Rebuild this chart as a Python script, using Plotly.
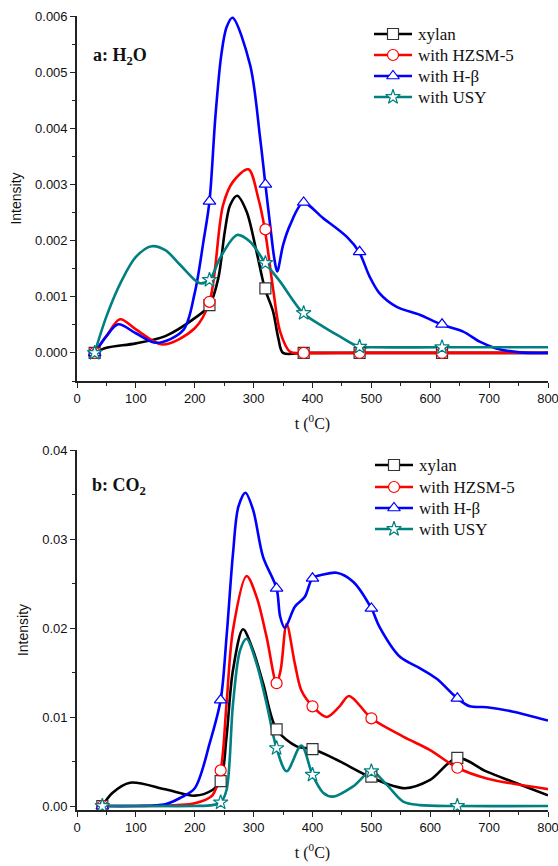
import plotly.graph_objects as go

# ---------------- data: panel a (H2O) ----------------
a_xylan_x = [30, 50, 100, 150, 200, 225, 240, 251, 260, 272, 288, 305, 319, 333, 342, 350, 385, 480, 620, 800]
a_xylan_y = [0, 0.00009, 0.00017, 0.0003, 0.00062, 0.00085, 0.00133, 0.00216, 0.00263, 0.0028, 0.00252,
             0.0018, 0.00115, 0.00074, 0.00026, 0.0, 0, 0, 0, 0]
a_hzsm_x = [30, 50, 73, 100, 145, 200, 225, 248, 265, 291, 308, 319, 333, 345, 362, 385, 480, 620, 800]
a_hzsm_y = [0, 0.0003, 0.0006, 0.00042, 0.00015, 0.00044, 0.00091, 0.00263, 0.00305, 0.00327, 0.00275,
            0.0022, 0.00115, 0.00038, 0.00002, 0, 0, 0, 0]
a_hb_x = [30, 50, 70, 100, 135, 180, 200, 215, 225, 235, 245, 254, 264, 294, 311, 320, 328, 335, 340, 350,
          362, 384, 418, 458, 479, 497, 514, 543, 582, 618, 656, 684, 712, 752, 800]
a_hb_y = [0, 0.0003, 0.00051, 0.00035, 0.00018, 0.0004, 0.00107, 0.002, 0.0027, 0.0042, 0.0053, 0.0058,
          0.00597, 0.00513, 0.00383, 0.003, 0.00228, 0.00169, 0.00145, 0.00192, 0.00228, 0.00267, 0.0024,
          0.00207, 0.0018, 0.00136, 0.00106, 0.00082, 0.00068, 0.00051, 0.00038, 0.0002, 0.00008, 0.00001, 0]
a_usy_x = [30, 50, 75, 100, 127, 150, 175, 200, 209, 225, 243, 272, 294, 320, 345, 384, 418, 447, 479, 500, 620, 800]
a_usy_y = [0, 0.00065, 0.00127, 0.00171, 0.0019, 0.00183, 0.00157, 0.0013, 0.00124, 0.0013, 0.00169, 0.0021,
           0.00198, 0.0016, 0.00127, 0.00071, 0.00047, 0.00029, 0.00011, 0.0001, 0.0001, 0.0001]

a_mk_x = [30, 225, 320, 385, 480, 620]
a_mk_xylan = [0, 0.00085, 0.00115, 0, 0, 0]
a_mk_hzsm = [0, 0.00091, 0.0022, 0, 0, 0]
a_mk_hb = [0, 0.0027, 0.003, 0.00268, 0.0018, 0.00051]
a_mk_usy = [0, 0.0013, 0.0016, 0.00071, 0.00011, 0.0001]

# ---------------- data: panel b (CO2) ----------------
b_xylan_x = [43, 60, 90, 150, 200, 230, 244, 254, 265, 282, 299, 316, 339, 373, 400, 441, 500, 557, 599, 646,
             696, 741, 800]
b_xylan_y = [0, 0.00146, 0.00262, 0.00187, 0.00116, 0.0018, 0.0028, 0.0078, 0.0153, 0.01985, 0.0175, 0.0138,
             0.0086, 0.0067, 0.0064, 0.0052, 0.0032, 0.002, 0.0029, 0.0054, 0.00386, 0.0027, 0.0012]
b_hzsm_x = [43, 100, 170, 200, 230, 244, 254, 265, 288, 305, 322, 339, 346, 356, 370, 381, 400, 424, 446, 462,
            500, 554, 599, 646, 696, 800]
b_hzsm_y = [0, 0, 0.0001, 0.0003, 0.0012, 0.004, 0.0115, 0.0198, 0.02584, 0.0235, 0.019, 0.0138, 0.0153,
            0.02045, 0.016, 0.013, 0.0112, 0.01, 0.0112, 0.01236, 0.00985, 0.0078, 0.0063, 0.0043, 0.0031, 0.0019]
b_hb_x = [43, 100, 150, 175, 200, 226, 244, 254, 265, 274, 286, 299, 316, 339, 345, 353, 370, 387, 400, 418,
          441, 469, 500, 514, 548, 582, 611, 646, 667, 696, 741, 800]
b_hb_y = [0, 0, 0.0002, 0.0009, 0.002, 0.0072, 0.0119, 0.019, 0.0284, 0.0336, 0.0352, 0.0333, 0.028, 0.02445,
          0.0213, 0.02, 0.0224, 0.0235, 0.02558, 0.026, 0.0262, 0.0252, 0.0222, 0.0201, 0.0168, 0.0155, 0.0143,
          0.0121, 0.0112, 0.0111, 0.0106, 0.0096]
b_usy_x = [43, 100, 200, 230, 244, 254, 265, 277, 288, 305, 322, 339, 356, 381, 400, 418, 435, 469, 500, 526,
           554, 582, 646, 800]
b_usy_y = [0, 0, 0, 0.0001, 0.0004, 0.0018, 0.0115, 0.0175, 0.0188, 0.016, 0.0115, 0.0065, 0.0039, 0.0068,
           0.0035, 0.0015, 0.00105, 0.0022, 0.0039, 0.0024, 0.0005, 0.0001, 0, 0]

b_mk_x = [43, 244, 339, 400, 500, 646]
b_mk_xylan = [0, 0.0028, 0.0086, 0.0064, 0.0033, 0.0054]
b_mk_hzsm = [0, 0.004, 0.0138, 0.0112, 0.00985, 0.0043]
b_mk_hb = [0, 0.0119, 0.02445, 0.02558, 0.0222, 0.0121]
b_mk_usy = [0, 0.0004, 0.0065, 0.0035, 0.0039, 0]

names = ["xylan", "with HZSM-5", "with H-\u03b2", "with USY"]
colors = ["#000000", "#FF0000", "#0000FF", "#008080"]
edge_colors = ["#333333", "#FF0000", "#0000FF", "#008080"]
symbols = ["square", "circle", "triangle-up", "star"]

SANS = "Liberation Sans, Arial, sans-serif"
SERIF = "Liberation Serif, Times New Roman, serif"

W, H = 558, 866
ML, MR = 77, 10

fig = go.Figure()

panels = [
    ("x", "y",
     [(a_xylan_x, a_xylan_y), (a_hzsm_x, a_hzsm_y), (a_hb_x, a_hb_y), (a_usy_x, a_usy_y)],
     a_mk_x, [a_mk_xylan, a_mk_hzsm, a_mk_hb, a_mk_usy]),
    ("x2", "y2",
     [(b_xylan_x, b_xylan_y), (b_hzsm_x, b_hzsm_y), (b_hb_x, b_hb_y), (b_usy_x, b_usy_y)],
     b_mk_x, [b_mk_xylan, b_mk_hzsm, b_mk_hb, b_mk_usy]),
]

for xa, ya, curves, mkx, mks in panels:
    for i, (cx, cy) in enumerate(curves):
        fig.add_trace(go.Scatter(x=cx, y=cy, mode="lines", xaxis=xa, yaxis=ya,
                                 line=dict(color=colors[i], width=2.6, shape="spline", smoothing=0.9),
                                 showlegend=False, hoverinfo="skip"))
    for i, my in enumerate(mks):
        fig.add_trace(go.Scatter(x=mkx, y=my, mode="markers", xaxis=xa, yaxis=ya,
                                 marker=dict(symbol=symbols[i], size=11, color="white",
                                             line=dict(color=edge_colors[i], width=1.2)),
                                 showlegend=False))

# ---------------- hand-made legends (pixel layout on an invisible overlay axis) ----------------
legend_rows = [
    # (line start px, line end px, text start px, row centres px)
    (374, 412, 416, [34, 55, 76, 97]),
    (375, 413, 417, [465, 487, 508, 529]),
]
annotations = []
for x0, x1, xt, rows in legend_rows:
    for i, yc in enumerate(rows):
        fig.add_trace(go.Scatter(x=[x0, x1], y=[yc, yc], mode="lines",
                                 xaxis="x3", yaxis="y3", showlegend=False, hoverinfo="skip",
                                 line=dict(color=colors[i], width=2.6)))
        fig.add_trace(go.Scatter(x=[(x0 + x1) / 2], y=[yc], mode="markers",
                                 xaxis="x3", yaxis="y3", showlegend=False, hoverinfo="skip",
                                 marker=dict(symbol=symbols[i], size=11, color="white",
                                             line=dict(color=edge_colors[i], width=1.2))))
        annotations.append(dict(text=names[i], x=xt, y=yc, xref="x3", yref="y3",
                                xanchor="left", yanchor="middle", showarrow=False,
                                font=dict(family=SERIF, size=17, color="#111111")))

annotations += [
    dict(text="<b>a: H<sub>2</sub>O</b>", x=91, y=56, xref="x3", yref="y3",
         xanchor="left", yanchor="middle", showarrow=False, font=dict(family=SERIF, size=18, color="#111111")),
    dict(text="<b>b: CO<sub>2</sub></b>", x=90, y=486, xref="x3", yref="y3",
         xanchor="left", yanchor="middle", showarrow=False, font=dict(family=SERIF, size=18, color="#111111")),
]

axis_common = dict(showline=True, linecolor="#222222", linewidth=1.6, ticks="outside", ticklen=5,
                   tickwidth=1.4, tickcolor="#222222", showgrid=False, zeroline=False, automargin=False,
                   ticklabeloverflow="allow",
                   tickfont=dict(family=SANS, size=13, color="#111111"))

xa_common = dict(axis_common, range=[0, 800], tick0=0, dtick=100,
                 minor=dict(ticks="outside", ticklen=3, tickwidth=1.2, tickcolor="#222222", dtick=50, showgrid=False),
                 title=dict(text="t (<sup>0</sup>C)", font=dict(family=SERIF, size=16, color="#111111"), standoff=12))

fig.update_layout(
    width=W, height=H,
    margin=dict(l=ML, r=MR, t=0, b=0),
    paper_bgcolor="white", plot_bgcolor="rgba(0,0,0,0)",
    template="none",
    showlegend=False,
    xaxis=dict(xa_common, domain=[0, 1], anchor="y"),
    yaxis=dict(axis_common, domain=[1 - 381 / H, 1 - 16 / H], anchor="x", range=[-0.0005, 0.006],
               tick0=0, dtick=0.001, tickformat=".3f",
               minor=dict(ticks="outside", ticklen=3, tickwidth=1.2, tickcolor="#222222", dtick=0.0005, showgrid=False),
               title=dict(text="Intensity", font=dict(family=SANS, size=14, color="#111111"), standoff=10)),
    xaxis2=dict(xa_common, domain=[0, 1], anchor="y2"),
    yaxis2=dict(axis_common, domain=[1 - 810 / H, 1 - 450 / H], anchor="x2", range=[-0.00045, 0.04],
                tick0=0, dtick=0.01, tickformat=".2f",
                minor=dict(ticks="outside", ticklen=3, tickwidth=1.2, tickcolor="#222222", dtick=0.005, showgrid=False),
                title=dict(text="Intensity", font=dict(family=SANS, size=14, color="#111111"), standoff=10)),
    xaxis3=dict(domain=[0, 1], range=[ML, W - MR], visible=False, anchor="y3", fixedrange=True),
    yaxis3=dict(domain=[0, 1], range=[H, 0], visible=False, anchor="x3", fixedrange=True),
    annotations=annotations,
)

fig.write_html("out.html", config={"displayModeBar": False},
               post_script="document.body.style.margin='0';document.body.style.overflow='hidden';")
